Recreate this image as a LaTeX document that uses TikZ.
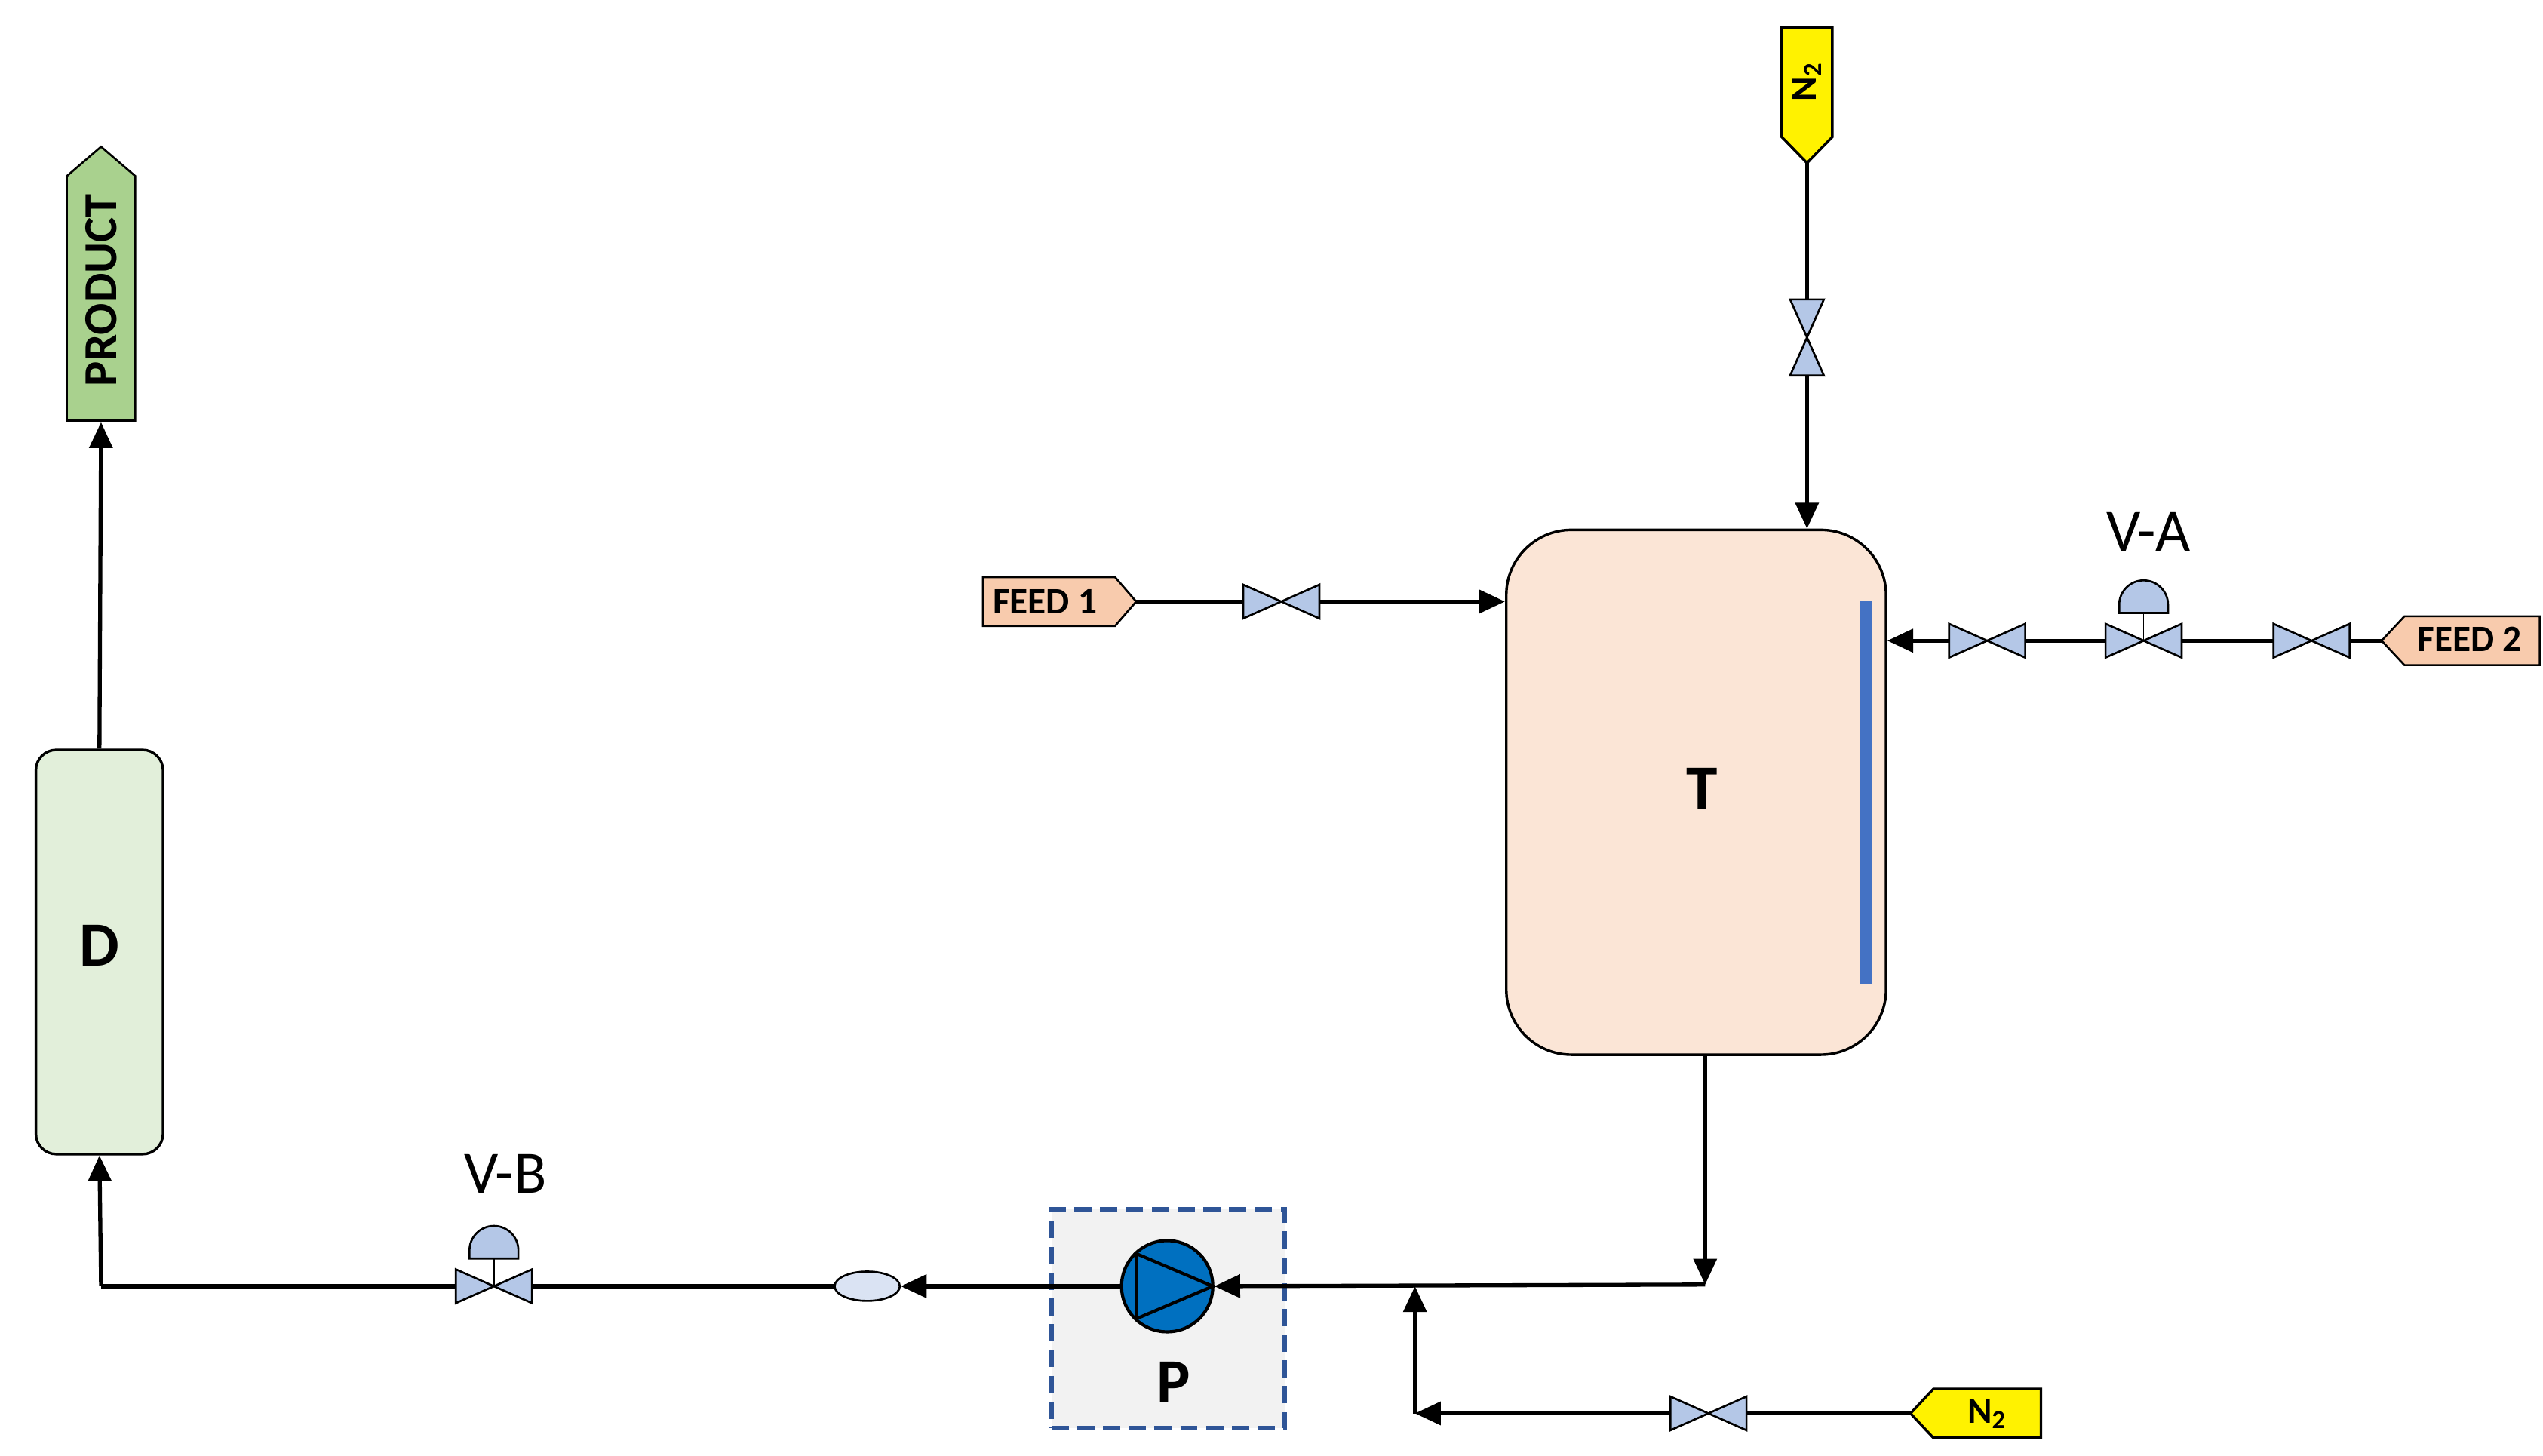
\documentclass[tikz,border=0pt]{standalone}
\usepackage{fontspec}
\setmainfont{Carlito}
\usetikzlibrary{arrows.meta,calc,shapes.geometric}
\definecolor{vfill}{HTML}{B4C7E7}
\definecolor{tankfill}{HTML}{FBE5D6}
\definecolor{feedfill}{HTML}{F8CBAD}
\definecolor{dfill}{HTML}{E2EFDA}
\definecolor{prodfill}{HTML}{A9D18E}
\definecolor{pumpblue}{HTML}{0070C0}
\definecolor{boxblue}{HTML}{2F5597}
\definecolor{barblue}{HTML}{4472C4}
\definecolor{ellfill}{HTML}{DAE3F3}
\begin{document}
\begin{tikzpicture}[x=0.02cm,y=-0.02cm,
  pipe/.style={line width=1.4pt},
  arr/.style={pipe,-{Triangle[length=9pt,width=8pt]}},
  vbox/.style={inner sep=0pt,minimum width=0.92cm,minimum height=0.4cm},
  vboxv/.style={inner sep=0pt,minimum width=0.4cm,minimum height=0.92cm},
  valve/.style={fill=vfill,draw=black,line width=0.7pt,line join=miter},
  lbl/.style={font=\fontsize{21}{23}\selectfont},
  big/.style={font=\bfseries\fontsize{22}{24}\selectfont},
  tagt/.style={font=\bfseries\fontsize{13}{15}\selectfont}]
\useasboundingbox (0,0) rectangle (1560,893);

% ---- Tank T
\node[draw=black,line width=0.9pt,fill=tankfill,rounded corners=0.8cm,minimum width=4.66cm,minimum height=6.44cm,inner sep=0pt] (T) at (1040.5,486) {};
\node[big] (Tl) at (1044,484) {T};
\fill[barblue] (1141,369) rectangle (1148,604);

% ---- D
\node[draw=black,line width=0.9pt,fill=dfill,rounded corners=0.25cm,minimum width=1.56cm,minimum height=4.96cm,inner sep=0pt] (D) at (61,584) {};
\node[big] at (61,580) {D};

% ---- PRODUCT tag
\draw[fill=prodfill,line width=0.7pt] (41,258) -- (41,108) -- (62,90) -- (83,108) -- (83,258) -- cycle;
\node[rotate=90,font=\bfseries\fontsize{16.5}{18}\selectfont] (prodt) at (62,178) {PRODUCT};
\coordinate (prodb) at (62,259);

% ---- N2 top tag
\draw[fill=yellow,line width=0.9pt] (1093,17) -- (1124,17) -- (1124,84) -- (1108.5,100) -- (1093,84) -- cycle;
\node[tagt,rotate=90] at (1108.5,50) {N$_\mathbf{2}$};
\coordinate (n2top) at (1108.5,100);

% ---- N2 bottom tag
\draw[fill=yellow,line width=0.9pt] (1252,852) -- (1186,852) -- (1172,867) -- (1186,882) -- (1252,882) -- cycle;
\node[tagt] at (1219,867) {N$_\mathbf{2}$};
\coordinate (n2bot) at (1172,867);

% ---- FEED 1 tag
\draw[fill=feedfill,line width=0.7pt] (603,354) -- (684,354) -- (697,369) -- (684,384) -- (603,384) -- cycle;
\node[tagt] at (641,369) {FEED 1};
\coordinate (f1) at (697,369);

% ---- FEED 2 tag
\draw[fill=feedfill,line width=0.7pt] (1558,378) -- (1475,378) -- (1461,393) -- (1475,408) -- (1558,408) -- cycle;
\node[tagt] at (1515,392) {FEED 2};
\coordinate (f2) at (1461,393);

% ---- valves (horizontal)
\foreach \n/\x/\y in {vf1/786/369, vf2a/1418/393, va/1315/393, vf2b/1219/393, vb/303/789, vn2/1048/867}{
  \node[vbox] (\n) at (\x,\y) {};
  \draw[valve] (\n.north west) -- (\n.center) -- (\n.south west) -- cycle;
  \draw[valve] (\n.north east) -- (\n.center) -- (\n.south east) -- cycle;
}
% vertical valve
\node[vboxv] (vn1) at (1108.5,207) {};
\draw[valve] (vn1.north west) -- (vn1.center) -- (vn1.north east) -- cycle;
\draw[valve] (vn1.south west) -- (vn1.center) -- (vn1.south east) -- cycle;

% actuators
\foreach \n in {va,vb}{
  \draw[line width=0.4pt] (\n.center) -- ++(0,-17);
  \draw[valve] ($(\n.center)+(-15,-17)$) -- ++(0,-5) arc[start angle=180,end angle=0,radius=0.3cm] -- ++(0,5) -- cycle;
}
\node[lbl] at (1318,326) {V-A};
\node[lbl] at (310,720) {V-B};

% ---- pump box
\node[draw=boxblue,dashed,dash pattern=on 6pt off 3pt,line width=1.6pt,fill=black!5,minimum width=2.86cm,minimum height=2.68cm,inner sep=0pt] (Pbox) at (716.5,809) {};
\node[circle,draw=black,line width=1.1pt,fill=pumpblue,minimum size=1.12cm,inner sep=0pt] (P) at (716,789) {};
\draw[line width=1.1pt] (697,769) -- (697,809) -- (744,789) -- cycle;
\node[big] at (720,848) {P};

% ---- ellipse
\node[ellipse,draw=black,line width=0.7pt,fill=ellfill,minimum width=0.8cm,minimum height=0.36cm,inner sep=0pt] (E) at (532,789) {};

% ---- junction coordinates
\coordinate (c1) at (1046,788);
\coordinate (j1) at (868,789);
\coordinate (c2) at (868,867);
\coordinate (c3) at (62,789);

% ---- connectors
\draw[arr] (D.north) -- (prodb);
\draw[pipe] (vb) -- (c3);
\draw[arr] (c3) -- (D.south);
\draw[pipe] (E) -- (vb);
\draw[arr] (P.west) -- (E);
\draw[arr] (T.south -| c1) -- (c1);
\draw[arr] (c1) -- (P.east);
\draw[pipe] (n2bot) -- (vn2);
\draw[arr] (vn2) -- (c2);
\draw[arr] (c2) -- (j1);
\draw[pipe] (n2top) -- (vn1);
\draw[arr] (vn1) -- (vn1 |- T.north);
\draw[pipe] (f1) -- (vf1);
\draw[arr] (vf1) -- (T.west |- vf1);
\draw[pipe] (f2) -- (vf2a);
\draw[pipe] (vf2a) -- (va);
\draw[pipe] (va) -- (vf2b);
\draw[arr] (vf2b) -- (T.east |- vf2b);
\end{tikzpicture}
\end{document}
